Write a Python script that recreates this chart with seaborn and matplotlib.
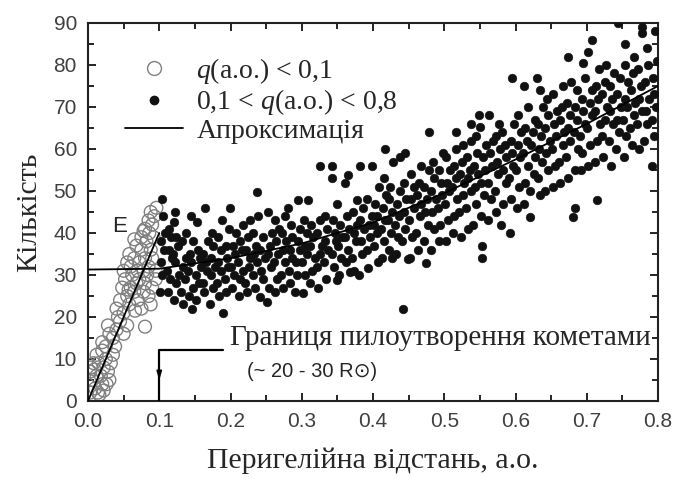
import numpy as np
import pandas as pd
import matplotlib
matplotlib.use("Agg")
import matplotlib.pyplot as plt
import seaborn as sns
from matplotlib.lines import Line2D

# ---------------- data ----------------
q_open = [0.003, 0.006, 0.010, 0.012, 0.016, 0.020, 0.004, 0.008, 0.014, 0.022,
          0.003, 0.009, 0.015, 0.018, 0.022, 0.025, 0.028, 0.030, 0.012, 0.020, 0.032, 0.026, 0.035,
          0.020, 0.025, 0.030, 0.035, 0.040, 0.028, 0.038, 0.045, 0.050, 0.042, 0.055, 0.080,
          0.040, 0.045, 0.050, 0.048, 0.055, 0.052, 0.058, 0.060, 0.062, 0.065, 0.068, 0.070, 0.072,
          0.075, 0.078, 0.080, 0.085, 0.090, 0.088, 0.095, 0.057, 0.066, 0.083,
          0.050, 0.055, 0.060, 0.058, 0.065, 0.070, 0.068, 0.072, 0.075, 0.078, 0.080, 0.082, 0.085,
          0.088, 0.090, 0.092, 0.095, 0.075, 0.065, 0.086,
          0.080, 0.085, 0.090, 0.093, 0.096, 0.088, 0.078]
n_open = [2, 5, 3, 6, 1.5, 4, 8, 9, 2, 2.5,
          7, 7.5, 9, 6, 8, 10, 7, 5, 11, 12, 9, 4, 11,
          14, 13, 16, 15, 17, 18, 13, 19, 16, 20, 18, 17.7,
          22, 24, 21, 27, 25, 29, 23, 27, 30, 26, 28, 24, 29,
          22, 26, 28, 25, 27, 23, 29, 26.5, 21.5, 30,
          31, 33, 32, 35, 34, 31, 37, 33, 36, 31, 34, 38, 32,
          36, 34, 39, 31, 39, 38.5, 40,
          41, 43, 42, 44, 46, 45, 40.5]

# filled points, q in 0.10-0.20
q_a = [0.101, 0.104, 0.102, 0.106, 0.103, 0.108, 0.105, 0.104,
       0.112, 0.115, 0.111, 0.118, 0.114, 0.117, 0.113, 0.119,
       0.121, 0.124, 0.128, 0.122, 0.126, 0.123, 0.120, 0.122,
       0.133, 0.131, 0.136, 0.134, 0.138, 0.132, 0.137,
       0.146, 0.142, 0.148, 0.141, 0.145, 0.143, 0.147, 0.144,
       0.152, 0.156, 0.151, 0.158, 0.154, 0.153, 0.157,
       0.163, 0.161, 0.167, 0.165, 0.162, 0.168, 0.164,
       0.171, 0.175, 0.173, 0.178, 0.172, 0.176, 0.174,
       0.184, 0.181, 0.187, 0.183, 0.186, 0.182, 0.188,
       0.190, 0.194, 0.192, 0.197, 0.195, 0.193, 0.198]
n_a = [26, 30, 33, 36, 38, 40, 44, 48,
       26, 29, 31, 34, 36, 39, 41, 35,
       24, 28, 30, 33, 37, 39, 42.6, 45,
       23, 26, 29, 32, 34, 38, 40,
       22, 25, 27, 31, 33, 35, 38, 44,
       24, 28, 30, 32, 36, 42.7, 34,
       26, 28, 31, 33, 35, 38, 46,
       23, 27, 30, 32, 34, 37, 40,
       25, 28, 31, 33, 36, 39, 43,
       21, 26, 29, 32, 34, 37, 41]

# filled points, q in 0.20-0.30
q_b = [0.202, 0.205, 0.201, 0.207, 0.204, 0.208, 0.199,
       0.212, 0.214, 0.218, 0.211, 0.216, 0.213, 0.217,
       0.223, 0.221, 0.226, 0.228, 0.222, 0.225, 0.227,
       0.234, 0.231, 0.237, 0.233, 0.236, 0.232, 0.238,
       0.241, 0.245, 0.243, 0.248, 0.242, 0.246, 0.237,
       0.251, 0.254, 0.257, 0.252, 0.256, 0.258, 0.253,
       0.262, 0.265, 0.261, 0.267, 0.264, 0.268, 0.263,
       0.273, 0.271, 0.276, 0.274, 0.278, 0.272, 0.277,
       0.284, 0.282, 0.286, 0.283, 0.287, 0.285, 0.281,
       0.291, 0.294, 0.292, 0.297, 0.295, 0.298, 0.295]
n_b = [27, 30, 32, 35, 37, 40, 46,
       25, 29, 31, 33, 36, 38, 42,
       26, 28, 32, 34, 36, 39, 43,
       27, 30, 33, 35, 37, 40, 44,
       24.8, 29, 31, 34, 36, 39, 49.8,
       23.6, 27, 32, 35, 37, 40, 45,
       26, 29, 33, 35, 38, 41, 43,
       27, 30, 33, 36, 38, 40, 44,
       28, 31, 34, 36, 39, 42, 46,
       26, 30, 33, 36, 38, 41, 47.9]

# filled points, q in 0.30-0.40
q_c = [0.302, 0.305, 0.301, 0.307, 0.304, 0.308, 0.303,
       0.312, 0.314, 0.318, 0.311, 0.316, 0.313, 0.309,
       0.323, 0.321, 0.326, 0.328, 0.322, 0.325, 0.326,
       0.334, 0.331, 0.337, 0.333, 0.336, 0.332, 0.342,
       0.349, 0.345, 0.343, 0.348, 0.346, 0.344, 0.342,
       0.352, 0.355, 0.351, 0.357, 0.354, 0.349,
       0.368, 0.362, 0.365, 0.361, 0.367, 0.363, 0.361, 0.365,
       0.374, 0.371, 0.376, 0.373, 0.378, 0.372, 0.377,
       0.381, 0.385, 0.383, 0.388, 0.382, 0.386, 0.382,
       0.393, 0.391, 0.396, 0.394, 0.398, 0.392, 0.398]
n_c = [25.7, 30, 33, 35, 37, 40, 43,
       28, 31, 34, 37, 39, 42, 47.9,
       27, 32, 35, 37, 40, 43, 56,
       29, 33, 36, 38, 41, 44, 53,
       28.8, 32, 35, 38, 40, 43, 56,
       30, 34, 37, 39, 42, 47,
       30.8, 33, 36, 39, 41, 44, 51.9, 53.8,
       31, 34, 38, 40, 42, 45, 47.8,
       30, 35, 38, 41, 43, 46, 56,
       31.6, 36, 39, 42, 44, 48, 56]

# filled points, q in 0.40-0.50
q_d = [0.407, 0.402, 0.405, 0.401, 0.406, 0.403, 0.408,
       0.412, 0.415, 0.411, 0.417, 0.414, 0.418, 0.416,
       0.426, 0.422, 0.425, 0.421, 0.427, 0.423, 0.424, 0.417,
       0.432, 0.435, 0.431, 0.437, 0.434, 0.438, 0.428,
       0.442, 0.449, 0.441, 0.445, 0.443, 0.447, 0.444, 0.438, 0.445,
       0.452, 0.455, 0.451, 0.457, 0.454, 0.458, 0.453,
       0.463, 0.461, 0.466, 0.468, 0.462, 0.465, 0.467,
       0.475, 0.471, 0.477, 0.473, 0.476, 0.472, 0.478,
       0.481, 0.485, 0.483, 0.488, 0.482, 0.486, 0.484, 0.479,
       0.492, 0.494, 0.491, 0.497, 0.495, 0.493, 0.498]
n_d = [33, 37, 40, 42, 44, 47, 51,
       34, 38, 41, 43, 46, 49, 53,
       34, 36, 40, 43, 45, 48, 51, 60,
       35, 39, 42, 44, 47, 50, 57,
       21.9, 33.8, 38, 41, 45, 48, 52, 58, 59,
       34, 39, 43, 46, 48, 51, 54,
       36, 40, 44, 47, 49, 52, 56,
       32.8, 38, 42, 45, 48, 51, 55,
       36, 41, 45, 48, 50, 53, 57, 64,
       38, 42, 46, 49, 52, 55, 59]

# filled points, q in 0.50-0.60
q_e = [0.502, 0.505, 0.501, 0.507, 0.504, 0.508, 0.503,
       0.512, 0.514, 0.518, 0.511, 0.516, 0.513, 0.517, 0.517,
       0.523, 0.521, 0.526, 0.528, 0.522, 0.525, 0.527,
       0.534, 0.531, 0.537, 0.533, 0.536, 0.532, 0.538,
       0.541, 0.545, 0.543, 0.548, 0.542, 0.546, 0.544, 0.538,
       0.553, 0.553, 0.551, 0.556, 0.552, 0.557, 0.554, 0.558, 0.550, 0.549,
       0.562, 0.565, 0.561, 0.567, 0.564, 0.568, 0.563,
       0.573, 0.571, 0.576, 0.574, 0.578, 0.572, 0.577,
       0.580, 0.582, 0.586, 0.583, 0.587, 0.585, 0.581,
       0.592, 0.594, 0.591, 0.597, 0.595, 0.593, 0.598, 0.595]
n_e = [38, 43, 47, 50, 52, 55, 58,
       40, 44, 48, 51, 53, 56, 60, 64,
       39, 45, 49, 52, 54, 57, 61,
       41, 46, 50, 53, 55, 58, 62,
       42, 47, 51, 54, 56, 59, 63, 66,
       34, 37, 44, 49, 52, 55, 58, 61, 65.3, 68,
       43, 48, 52, 56, 59, 62, 68,
       45, 50, 54, 57, 60, 63, 66,
       42, 47, 52, 55, 58, 61, 64,
       40, 48, 53, 56, 59, 62, 66, 77]

# filled points, q in 0.60-0.70
q_f = [0.602, 0.605, 0.601, 0.607, 0.604, 0.608, 0.603,
       0.612, 0.614, 0.618, 0.611, 0.616, 0.613, 0.617, 0.612,
       0.620, 0.621, 0.626, 0.628, 0.622, 0.625, 0.627, 0.630,
       0.634, 0.631, 0.637, 0.633, 0.636, 0.632, 0.638, 0.635,
       0.641, 0.645, 0.643, 0.648, 0.642, 0.646, 0.644,
       0.652, 0.655, 0.651, 0.657, 0.654, 0.658, 0.653,
       0.663, 0.661, 0.666, 0.668, 0.662, 0.665, 0.667,
       0.674, 0.671, 0.677, 0.673, 0.676, 0.672, 0.678, 0.674,
       0.681, 0.683, 0.683, 0.688, 0.682, 0.686, 0.684, 0.687,
       0.692, 0.694, 0.691, 0.697, 0.695, 0.693, 0.698, 0.695]
n_f = [46, 51, 55, 58, 61, 64, 68,
       47, 52, 56, 59, 62, 65, 70, 75,
       43.9, 50, 54, 58, 61, 64, 67, 77,
       49, 53, 57, 60, 63, 66, 70, 74,
       50, 55, 59, 62, 65, 68, 72,
       51, 56, 60, 63, 66, 69, 73,
       52, 57, 61, 64, 67, 70, 75,
       53, 58, 62, 65, 68, 71, 76, 82,
       43.9, 46, 55, 60, 64, 67, 70, 74,
       55, 59, 63, 66, 69, 72, 77, 80.5]

# filled points, q in 0.70-0.80
q_g = [0.714, 0.702, 0.705, 0.701, 0.707, 0.704, 0.708, 0.702, 0.707,
       0.712, 0.714, 0.718, 0.711, 0.716, 0.713, 0.717,
       0.723, 0.721, 0.726, 0.728, 0.722, 0.725, 0.727,
       0.734, 0.731, 0.737, 0.733, 0.736, 0.732, 0.738,
       0.741, 0.745, 0.743, 0.748, 0.742, 0.746, 0.744,
       0.752, 0.755, 0.751, 0.757, 0.754, 0.758, 0.753, 0.754,
       0.763, 0.761, 0.766, 0.768, 0.762, 0.765, 0.767,
       0.774, 0.771, 0.777, 0.773, 0.776, 0.772, 0.777, 0.778,
       0.781, 0.785, 0.783, 0.788, 0.782, 0.786, 0.784,
       0.792, 0.794, 0.791, 0.797, 0.795, 0.793, 0.798, 0.796]
n_g = [47.8, 56, 61, 65, 68, 71, 74, 83, 86,
       57, 62, 66, 69, 72, 75, 79,
       58, 63, 67, 70, 73, 76, 80,
       56, 62, 66, 69, 72, 75, 78,
       60, 64, 67, 70, 73, 77, 90,
       58, 63, 67, 70, 72, 76, 80, 85,
       61, 65, 68, 71, 74, 78, 82,
       60, 66, 69, 72, 75, 79, 87.5, 89,
       62, 66, 69, 72, 76, 80, 84,
       56, 63, 67, 70, 73, 77, 81, 88]

# approximation lines
fit_steep_q = [0.0, 0.1]
fit_steep_n = [0.0, 40.0]
fit_main_q = [0.0, 0.1, 0.2, 0.3, 0.4, 0.5, 0.6, 0.7, 0.8]
fit_main_n = [31.3, 31.5, 34.0, 37.5, 42.5, 49.5, 57.5, 66.0, 75.0]

legend_labels = ["$q$(а.о.) < 0,1", "0,1 < $q$(а.о.) < 0,8", "Апроксимація"]
x_ticks = [0.0, 0.1, 0.2, 0.3, 0.4, 0.5, 0.6, 0.7, 0.8]
y_ticks = [0, 10, 20, 30, 40, 50, 60, 70, 80, 90]

# ---------------- style ----------------
sns.set_style("ticks")
plt.rcParams['font.family'] = ['Liberation Serif', 'DejaVu Serif']
plt.rcParams['mathtext.fontset'] = 'custom'
plt.rcParams['mathtext.it'] = 'Liberation Serif:italic'
plt.rcParams['mathtext.rm'] = 'Liberation Serif'

filled = pd.DataFrame({
    "q": q_a + q_b + q_c + q_d + q_e + q_f + q_g,
    "n": n_a + n_b + n_c + n_d + n_e + n_f + n_g,
})
opened = pd.DataFrame({"q": q_open, "n": n_open})

fig = plt.figure(figsize=(6.73, 4.78), dpi=100)
ax = fig.add_axes([88 / 673, 77 / 478, 570 / 673, 378 / 478])

sns.scatterplot(data=opened, x="q", y="n", ax=ax, marker="o", s=85,
                facecolor="none", edgecolor="#808080", linewidth=1.0, zorder=2)
sns.scatterplot(data=filled, x="q", y="n", ax=ax, marker="o", s=40,
                color="#111111", edgecolor="#111111", linewidth=0.3, zorder=3)
sns.lineplot(x=fit_steep_q, y=fit_steep_n, ax=ax, color="black", lw=1.3, zorder=4)
sns.lineplot(x=fit_main_q, y=fit_main_n, ax=ax, color="black", lw=1.3, zorder=4,
             sort=False)

ax.set_xlim(0, 0.8)
ax.set_ylim(0, 90)
ax.set_xticks(x_ticks)
ax.set_xticklabels([f"{v:.1f}" for v in x_ticks])
ax.set_yticks(y_ticks)
ax.set_xticks(np.arange(0.05, 0.8, 0.1), minor=True)
ax.set_yticks(np.arange(5, 90, 10), minor=True)
ax.tick_params(which="both", direction="in", top=True, right=True,
               colors="black", labelcolor="#404040", width=1.2)
ax.tick_params(which="major", length=6, labelsize=15, pad=8)
ax.tick_params(which="minor", length=4)
for lab in ax.get_xticklabels() + ax.get_yticklabels():
    lab.set_fontfamily(['Liberation Sans', 'DejaVu Sans'])
for sp in ax.spines.values():
    sp.set_linewidth(1.5)
    sp.set_color("#222222")

ax.set_xlabel("Перигелійна відстань, а.о.", fontsize=21.5, labelpad=12)
ax.set_ylabel("Кількість", fontsize=21.5, labelpad=8)

# legend
handles = [
    Line2D([], [], marker="o", ls="none", markersize=10, markerfacecolor="none",
           markeredgecolor="#808080", markeredgewidth=1.0),
    Line2D([], [], marker="o", ls="none", markersize=6, color="#111111"),
    Line2D([], [], color="black", lw=1.3),
]
ax.legend(handles, legend_labels, loc="upper left", frameon=False, fontsize=20,
          bbox_to_anchor=(0.065, 0.913), borderpad=0, borderaxespad=0,
          handlelength=2.1, handletextpad=0.47, labelspacing=0.05)

# annotations
ax.text(0.045, 41.5, "E", fontsize=16, ha="center", va="center",
        family=['Liberation Sans', 'DejaVu Sans'])
ax.text(0.199, 15.0, "Границя пилоутворення кометами", fontsize=21,
        ha="left", va="center")
ax.text(0.223, 7.0, "(~ 20 - 30 R⊙)", fontsize=14.5, ha="left", va="center",
        family=['Liberation Sans', 'DejaVu Sans'])
ax.plot([0.19, 0.1, 0.1], [12.2, 12.2, 0], color="black", lw=1.6, zorder=5)
ax.annotate("", xy=(0.1, 4.3), xytext=(0.1, 8.0),
            arrowprops=dict(arrowstyle="-|>,head_length=0.5,head_width=0.15",
                            color="black", lw=1.2), zorder=5)

fig.savefig("out.png", dpi=100)
